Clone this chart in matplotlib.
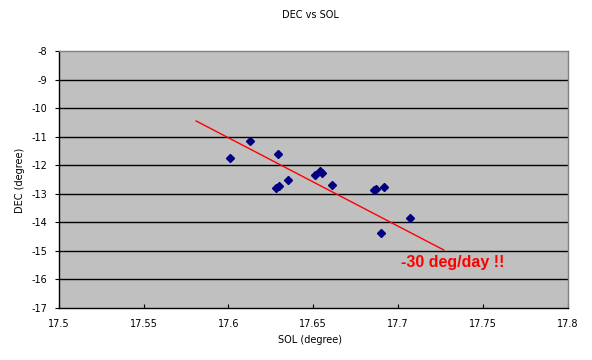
import matplotlib
matplotlib.use("Agg")
import matplotlib.pyplot as plt
import numpy as np

plt.rcParams['font.family'] = ['DejaVu Sans']
plt.rcParams['axes.unicode_minus'] = False

sol = [17.601, 17.613, 17.629, 17.628, 17.630, 17.635, 17.651, 17.654, 17.655,
       17.661, 17.686, 17.687, 17.692, 17.707, 17.690]
dec = [-11.74, -11.14, -11.62, -12.79, -12.72, -12.51, -12.33, -12.19, -12.26,
       -12.68, -12.87, -12.84, -12.77, -13.85, -14.36]
trend_sol = [17.581, 17.727]
trend_dec = [-10.45, -14.97]
xticks = [17.5, 17.55, 17.6, 17.65, 17.7, 17.75, 17.8]
xticklabels = ["17.5", "17.55", "17.6", "17.65", "17.7", "17.75", "17.8"]
yticks = list(range(-17, -7))

W, H = 592, 360
fig = plt.figure(figsize=(W/100, H/100), dpi=100)
fig.patch.set_facecolor('white')
ax = fig.add_axes([58.7/W, 1-308/H, (567.7-58.7)/W, (308-51)/H])
ax.set_facecolor('#C0C0C0')
ax.set_xlim(17.5, 17.8)
ax.set_ylim(-17, -8)
ax.set_xticks(xticks)
ax.set_xticklabels(xticklabels)
ax.set_yticks(yticks)
ax.set_yticklabels([str(v) for v in yticks])
for y in yticks[1:-1]:
    ax.axhline(y, color='black', lw=1.0, zorder=1)
ax.tick_params(axis='x', direction='in', length=3, pad=8, labelsize=7, colors='black')
ax.tick_params(axis='y', direction='out', length=3, pad=5, labelsize=7, colors='black')
for s in ['top', 'right']:
    ax.spines[s].set_color('#808080')
    ax.spines[s].set_linewidth(1.0)
for s in ['left', 'bottom']:
    ax.spines[s].set_color('black')
    ax.spines[s].set_linewidth(1.0)

ax.plot(trend_sol, trend_dec, color='#FF0000', lw=1.0, zorder=2)
ax.plot(sol, dec, linestyle='none', marker='D', ms=4.5, color='#000080', zorder=3)
ax.text(17.7016, -15.42, '-30 deg/day !!', color='#FF0000', fontsize=11.5,
        fontweight='bold', family='Liberation Sans', ha='left', va='center')

fig.text(310/W, 1-15/H, 'DEC vs SOL', ha='center', va='center', fontsize=7)
fig.text(310/W, 1-340/H, 'SOL (degree)', ha='center', va='center', fontsize=7)
fig.text(20/W, 1-180/H, 'DEC (degree)', ha='center', va='center', fontsize=7, rotation=90)

fig.savefig('out.png', dpi=100)
